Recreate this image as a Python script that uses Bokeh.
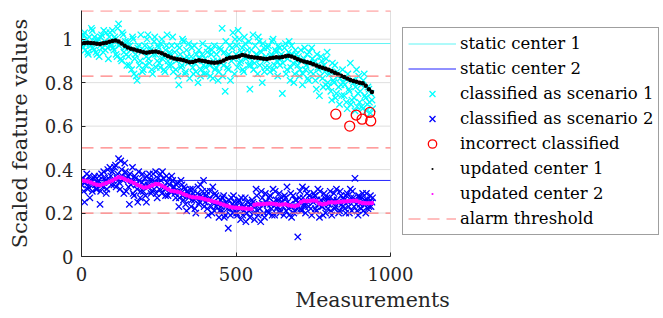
from bokeh.plotting import figure
from bokeh.models import ColumnDataSource, Legend, LegendItem, FixedTicker, Title
from bokeh.embed import file_html
from bokeh.resources import INLINE

# ---------------- data ----------------
x_limits = [0, 1000]
y_limits = [0, 1.132]
static_center_1 = 0.98
static_center_2 = 0.35
alarm_thresholds = [1.13, 0.83, 0.50, 0.20]

x_ticks = [0, 500, 1000]
y_ticks = [0, 0.2, 0.4, 0.6, 0.8, 1]
y_tick_labels = ["0", "0.2", "0.4", "0.6", "0.8", "1"]

# measurement index of the (sub-sampled) classified points
meas_x_a = list(range(0, 941, 5))
meas_x_b = list(range(2, 943, 5))

scenario_1_a = [
    1.00, 0.96, 1.03, 0.98, 0.94, 1.01, 0.97, 1.04, 0.95, 0.99,
    0.93, 1.00, 0.97, 1.02, 0.94, 0.99, 1.03, 0.96, 1.01, 0.98,
    1.04, 0.95, 1.00, 0.92, 1.07, 0.98, 0.90, 1.02, 0.96, 0.93,
    0.99, 0.88, 0.95, 1.01, 0.84, 0.93, 0.81, 0.97, 0.90, 0.94,
    0.86, 0.97, 0.92, 1.02, 0.89, 0.95, 0.84, 0.99, 0.93, 0.90,
    0.96, 0.87, 1.00, 0.92, 0.85, 0.97, 0.90, 0.94, 0.88, 1.01,
    0.91, 0.86, 0.97, 0.79, 0.93, 0.88, 0.99, 0.84, 0.95, 0.89,
    0.82, 0.92, 0.87, 0.97, 0.85, 0.90, 0.95, 0.83, 0.93, 0.88,
    0.91, 0.84, 0.96, 0.88, 0.93, 0.82, 0.97, 0.87, 0.90, 0.85,
    0.95, 1.05, 0.88, 0.76, 0.92, 0.86, 0.97, 0.90, 1.03, 0.84,
    0.93, 0.87, 1.00, 0.90, 0.96, 0.85, 0.98, 0.92, 0.88, 0.77,
    0.95, 1.02, 0.89, 0.93, 0.84, 0.99, 0.91, 0.80, 0.96, 0.87,
    0.90, 0.97, 0.85, 0.93, 1.00, 0.88, 0.94, 0.83, 0.96, 0.91,
    0.75, 0.92, 0.98, 0.86, 0.94, 0.81, 0.97, 0.89, 0.84, 0.93,
    0.88, 0.83, 0.95, 0.79, 0.91, 0.86, 0.93, 0.81, 0.89, 0.96,
    0.84, 0.90, 0.77, 0.87, 0.74, 0.92, 0.82, 0.88, 0.79, 0.94,
    0.78, 0.85, 0.72, 0.81, 0.88, 0.75, 0.83, 0.70, 0.79, 0.86,
    0.74, 0.82, 0.68, 0.77, 0.89, 0.72, 0.80, 0.67, 0.86, 0.75,
    0.71, 0.79, 0.68, 0.84, 0.73, 0.70, 0.77, 0.66, 0.72,
]
scenario_1_b = [
    0.97, 1.02, 0.95, 1.00, 0.93, 0.98, 1.05, 0.96, 1.01, 0.94,
    0.99, 0.92, 1.01, 0.96, 1.04, 0.95, 0.98, 0.91, 1.03, 0.97,
    0.96, 1.01, 0.93, 1.05, 0.97, 0.91, 1.03, 0.94, 0.99, 0.88,
    0.92, 0.97, 0.86, 1.00, 0.91, 0.83, 0.96, 0.88, 1.02, 0.85,
    0.95, 0.88, 1.00, 0.91, 0.96, 0.86, 0.93, 1.01, 0.87, 0.97,
    0.89, 0.98, 0.91, 0.86, 0.95, 1.02, 0.88, 0.93, 0.97, 0.85,
    0.94, 0.90, 0.83, 0.96, 0.87, 1.00, 0.91, 0.85, 0.92, 0.98,
    0.90, 0.96, 0.84, 0.89, 0.93, 0.80, 0.91, 0.86, 0.98, 0.84,
    0.87, 0.94, 0.89, 0.83, 0.95, 0.90, 0.86, 0.93, 0.81, 0.96,
    0.89, 0.83, 0.94, 0.99, 0.87, 0.93, 0.81, 0.96, 0.91, 1.00,
    0.97, 1.04, 0.89, 0.94, 0.86, 1.01, 0.91, 0.95, 0.99, 0.88,
    0.90, 0.86, 0.97, 0.93, 1.01, 0.88, 0.94, 0.98, 0.85, 0.92,
    0.96, 0.87, 0.92, 0.99, 0.86, 0.95, 0.90, 0.97, 0.88, 0.93,
    0.89, 0.96, 0.84, 0.91, 0.99, 0.87, 0.93, 0.80, 0.95, 0.90,
    0.92, 0.86, 0.90, 0.84, 0.96, 0.88, 0.82, 0.94, 0.85, 0.91,
    0.89, 0.81, 0.93, 0.86, 0.83, 0.90, 0.78, 0.85, 0.91, 0.80,
    0.84, 0.76, 0.89, 0.80, 0.73, 0.85, 0.78, 0.82, 0.74, 0.80,
    0.79, 0.71, 0.84, 0.76, 0.70, 0.81, 0.73, 0.78, 0.69, 0.83,
    0.76, 0.69, 0.81, 0.74, 0.67, 0.78, 0.71, 0.75, 0.68,
]

scenario_2_a = [
    0.33, 0.36, 0.25, 0.35, 0.31, 0.37, 0.34, 0.30, 0.36, 0.33,
    0.31, 0.35, 0.24, 0.38, 0.32, 0.36, 0.29, 0.40, 0.34, 0.37,
    0.39, 0.33, 0.42, 0.36, 0.45, 0.31, 0.40, 0.35, 0.43, 0.30,
    0.37, 0.24, 0.33, 0.41, 0.28, 0.36, 0.31, 0.39, 0.27, 0.34,
    0.30, 0.36, 0.25, 0.33, 0.38, 0.29, 0.35, 0.31, 0.39, 0.27,
    0.34, 0.38, 0.29, 0.36, 0.31, 0.37, 0.28, 0.33, 0.30, 0.35,
    0.32, 0.27, 0.34, 0.23, 0.30, 0.33, 0.26, 0.31, 0.21, 0.29,
    0.28, 0.23, 0.31, 0.26, 0.20, 0.29, 0.24, 0.33, 0.27, 0.35,
    0.25, 0.30, 0.19, 0.27, 0.23, 0.32, 0.21, 0.28, 0.24, 0.18,
    0.26, 0.21, 0.28, 0.19, 0.24, 0.13, 0.22, 0.27, 0.20, 0.25,
    0.23, 0.19, 0.26, 0.17, 0.24, 0.21, 0.27, 0.20, 0.23, 0.18,
    0.22, 0.25, 0.17, 0.31, 0.21, 0.24, 0.16, 0.27, 0.20, 0.29,
    0.24, 0.20, 0.28, 0.22, 0.31, 0.19, 0.26, 0.23, 0.29, 0.21,
    0.25, 0.19, 0.27, 0.32, 0.22, 0.24, 0.18, 0.28, 0.21, 0.26,
    0.09, 0.27, 0.22, 0.32, 0.24, 0.20, 0.29, 0.23, 0.26, 0.19,
    0.25, 0.28, 0.21, 0.31, 0.18, 0.26, 0.23, 0.29, 0.20, 0.27,
    0.24, 0.30, 0.19, 0.26, 0.22, 0.31, 0.25, 0.21, 0.28, 0.23,
    0.26, 0.20, 0.29, 0.23, 0.31, 0.21, 0.27, 0.36, 0.24, 0.19,
    0.27, 0.22, 0.29, 0.24, 0.20, 0.26, 0.23, 0.28, 0.25,
]
scenario_2_b = [
    0.36, 0.30, 0.34, 0.38, 0.32, 0.27, 0.35, 0.33, 0.37, 0.31,
    0.34, 0.37, 0.30, 0.33, 0.39, 0.35, 0.31, 0.36, 0.41, 0.33,
    0.35, 0.41, 0.32, 0.38, 0.34, 0.44, 0.37, 0.29, 0.39, 0.36,
    0.32, 0.38, 0.35, 0.29, 0.37, 0.33, 0.25, 0.35, 0.30, 0.38,
    0.33, 0.28, 0.37, 0.32, 0.35, 0.30, 0.38, 0.34, 0.29, 0.36,
    0.31, 0.35, 0.39, 0.32, 0.28, 0.34, 0.36, 0.30, 0.37, 0.32,
    0.29, 0.33, 0.30, 0.27, 0.35, 0.28, 0.32, 0.24, 0.30, 0.27,
    0.31, 0.26, 0.29, 0.22, 0.27, 0.32, 0.25, 0.28, 0.30, 0.23,
    0.28, 0.22, 0.26, 0.30, 0.20, 0.25, 0.29, 0.23, 0.27, 0.21,
    0.23, 0.27, 0.18, 0.25, 0.22, 0.26, 0.19, 0.24, 0.28, 0.21,
    0.20, 0.25, 0.22, 0.27, 0.19, 0.23, 0.16, 0.25, 0.21, 0.24,
    0.26, 0.20, 0.23, 0.28, 0.19, 0.22, 0.30, 0.24, 0.18, 0.25,
    0.21, 0.27, 0.24, 0.19, 0.25, 0.30, 0.22, 0.26, 0.20, 0.27,
    0.23, 0.28, 0.21, 0.25, 0.19, 0.29, 0.23, 0.20, 0.26, 0.22,
    0.25, 0.30, 0.21, 0.27, 0.23, 0.31, 0.25, 0.28, 0.22, 0.27,
    0.29, 0.22, 0.26, 0.24, 0.30, 0.23, 0.19, 0.27, 0.25, 0.22,
    0.27, 0.21, 0.25, 0.29, 0.23, 0.26, 0.20, 0.30, 0.24, 0.27,
    0.22, 0.28, 0.25, 0.20, 0.27, 0.30, 0.23, 0.26, 0.21, 0.28,
    0.24, 0.27, 0.21, 0.26, 0.29, 0.22, 0.25, 0.23, 0.27,
]

incorrect_x = [823, 868, 889, 908, 933, 936]
incorrect_y = [0.655, 0.600, 0.651, 0.632, 0.663, 0.624]

center_x = list(range(0, 941, 10))
updated_center_1 = [
    0.980, 0.982, 0.984, 0.983, 0.981, 0.979, 0.978, 0.981, 0.984, 0.988,
    0.992, 0.994, 0.989, 0.980, 0.970, 0.962, 0.956, 0.952, 0.948, 0.944,
    0.940, 0.938, 0.940, 0.942, 0.943, 0.940, 0.935, 0.928, 0.922, 0.916,
    0.911, 0.908, 0.906, 0.903, 0.898, 0.894, 0.895, 0.900, 0.903, 0.901,
    0.898, 0.895, 0.893, 0.892, 0.893, 0.896, 0.902, 0.910, 0.914, 0.916,
    0.918, 0.922, 0.927, 0.925, 0.920, 0.918, 0.916, 0.914, 0.912, 0.910,
    0.909, 0.912, 0.915, 0.917, 0.916, 0.918, 0.922, 0.924, 0.920, 0.914,
    0.908, 0.902, 0.897, 0.894, 0.890, 0.885, 0.879, 0.873, 0.868, 0.864,
    0.859, 0.853, 0.846, 0.839, 0.832, 0.826, 0.819, 0.812, 0.808, 0.804,
    0.800, 0.797, 0.786, 0.770, 0.757,
]
updated_center_2 = [
    0.350, 0.348, 0.345, 0.340, 0.335, 0.330, 0.328, 0.332, 0.338, 0.344,
    0.350, 0.358, 0.365, 0.362, 0.356, 0.350, 0.345, 0.338, 0.330, 0.324,
    0.318, 0.318, 0.322, 0.328, 0.334, 0.333, 0.326, 0.318, 0.310, 0.303,
    0.300, 0.298, 0.294, 0.288, 0.282, 0.276, 0.273, 0.271, 0.270, 0.268,
    0.264, 0.260, 0.256, 0.252, 0.248, 0.243, 0.238, 0.233, 0.229, 0.226,
    0.224, 0.223, 0.222, 0.221, 0.220, 0.220, 0.238, 0.240, 0.241, 0.242,
    0.243, 0.244, 0.243, 0.240, 0.238, 0.239, 0.240, 0.236, 0.233, 0.231,
    0.236, 0.250, 0.256, 0.254, 0.256, 0.258, 0.255, 0.244, 0.241, 0.243,
    0.248, 0.250, 0.249, 0.251, 0.252, 0.253, 0.254, 0.255, 0.256, 0.257,
    0.250, 0.246, 0.245, 0.245, 0.246,
]

# ---------------- figure ----------------
FONT = "DejaVu Serif"
AX = "#262626"
W, H = 663, 318
LEFT, TOP, BOTTOM = 81, 10, 62
AXES_W = 309                      # pixel width of the 0..1000 data area
frame_w = W - LEFT                # frame also hosts the legend to the right
x_end = x_limits[1] * frame_w / AXES_W

p = figure(
    width=W, height=H,
    x_range=(x_limits[0], x_end), y_range=(y_limits[0], y_limits[1]),
    output_backend="svg", toolbar_location=None,
    min_border_left=LEFT, min_border_right=0, min_border_top=TOP, min_border_bottom=BOTTOM,
)
p.outline_line_color = None
p.background_fill_color = "white"

p.xaxis.ticker = FixedTicker(ticks=x_ticks)
p.yaxis.ticker = FixedTicker(ticks=y_ticks)
p.xaxis.bounds = (x_limits[0], x_limits[1])
p.yaxis.major_label_overrides = {t: l for t, l in zip(y_ticks, y_tick_labels)}
for ax in (p.xaxis[0], p.yaxis[0]):
    ax.axis_line_color = AX
    ax.axis_line_width = 1
    ax.major_tick_line_color = AX
    ax.major_tick_in = 4
    ax.major_tick_out = 0
    ax.minor_tick_line_color = None
    ax.major_label_text_font = FONT
    ax.major_label_text_font_size = "18px"
    ax.major_label_text_color = AX
    ax.axis_label_text_font = FONT
    ax.axis_label_text_font_style = "normal"
    ax.axis_label_text_font_size = "21px"
    ax.axis_label_text_color = AX
p.yaxis.axis_label = "Scaled feature values"
p.xaxis.major_label_standoff = 10
p.yaxis.major_label_standoff = 8
p.yaxis.axis_label_standoff = 10

# x-axis label, centred under the 0..1000 data area
p.add_layout(Title(text="Measurements", align="center", offset=-(frame_w - AXES_W) / 2,
                   text_font=FONT, text_font_style="normal", text_font_size="20.5px",
                   text_color=AX, standoff=5, vertical_align="bottom"), "below")

GRID = "#dfdfdf"
p.xgrid.grid_line_color = GRID
p.ygrid.grid_line_color = None
# horizontal grid lines limited to the data area
p.segment(x0=x_limits[0], x1=x_limits[1], y0=y_ticks[1:], y1=y_ticks[1:], line_color=GRID, line_width=1)

src1a = ColumnDataSource(dict(x=meas_x_a, y=scenario_1_a))
src1b = ColumnDataSource(dict(x=meas_x_b, y=scenario_1_b))
src2a = ColumnDataSource(dict(x=meas_x_a, y=scenario_2_a))
src2b = ColumnDataSource(dict(x=meas_x_b, y=scenario_2_b))
srcc = ColumnDataSource(dict(x=center_x, y1=updated_center_1, y2=updated_center_2))

r_s1 = p.line(x=x_limits, y=[static_center_1] * 2, line_color="#5ff5f5", line_width=1)
r_s2 = p.line(x=x_limits, y=[static_center_2] * 2, line_color="#2222ff", line_width=1)
r_c1 = p.scatter("x", "y", source=src1a, marker="x", size=9, line_color="cyan", line_width=1.3)
p.scatter("x", "y", source=src1b, marker="x", size=9, line_color="cyan", line_width=1.3)
r_c2 = p.scatter("x", "y", source=src2a, marker="x", size=9, line_color="blue", line_width=1.3)
p.scatter("x", "y", source=src2b, marker="x", size=9, line_color="blue", line_width=1.3)
r_inc = p.scatter(x=incorrect_x, y=incorrect_y, marker="circle", size=10, fill_color=None,
                  line_color="red", line_width=1.3)
r_u1 = p.scatter("x", "y1", source=srcc, marker="dot", size=18, line_color="black", fill_color="black")
r_u2 = p.scatter("x", "y2", source=srcc, marker="dot", size=18, line_color="magenta", fill_color="magenta")
r_al = p.multi_line(xs=[x_limits] * len(alarm_thresholds), ys=[[t, t] for t in alarm_thresholds],
                    line_color="#ff7f7f", line_width=1.2, line_dash="12 7")

legend = Legend(
    items=[
        LegendItem(label="static center 1", renderers=[r_s1]),
        LegendItem(label="static center 2", renderers=[r_s2]),
        LegendItem(label="classified as scenario 1", renderers=[r_c1]),
        LegendItem(label="classified as scenario 2", renderers=[r_c2]),
        LegendItem(label="incorrect classified", renderers=[r_inc]),
        LegendItem(label="updated center 1", renderers=[r_u1]),
        LegendItem(label="updated center 2", renderers=[r_u2]),
        LegendItem(label="alarm threshold", renderers=[r_al]),
    ],
    location=(AXES_W + 12, 21),
    label_text_font=FONT, label_text_font_size="16.5px", label_text_color="black",
    glyph_width=48, glyph_height=21, label_height=21, label_standoff=4,
    spacing=4, padding=5, margin=0,
    border_line_color="#404040", border_line_width=1,
    background_fill_color="white", background_fill_alpha=1,
)
p.add_layout(legend, "center")

open("out.html", "w").write(file_html(p, INLINE))
